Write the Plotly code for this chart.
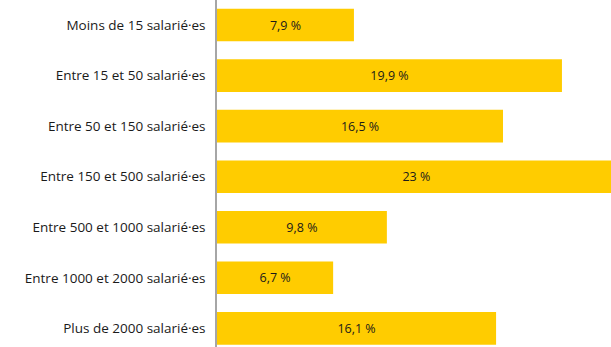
import plotly.graph_objects as go

# Répartition par taille d'entreprise (%)
categories = [
    "Moins de 15 salarié·es",
    "Entre 15 et 50 salarié·es",
    "Entre 50 et 150 salarié·es",
    "Entre 150 et 500 salarié·es",
    "Entre 500 et 1000 salarié·es",
    "Entre 1000 et 2000 salarié·es",
    "Plus de 2000 salarié·es",
]
values = [7.9, 19.9, 16.5, 23, 9.8, 6.7, 16.1]

labels = [f"{v:g}".replace(".", ",") + " %" for v in values]

fig = go.Figure(
    go.Bar(
        x=values,
        y=categories,
        orientation="h",
        width=0.645,
        marker=dict(color="#FFCC00", line=dict(width=0)),
        text=labels,
        textposition="inside",
        insidetextanchor="middle",
        textangle=0,
        textfont=dict(family="Open Sans, sans-serif", size=12.5, color="#1a1a1a"),
        hoverinfo="skip",
    )
)

fig.update_layout(
    width=611,
    height=347,
    margin=dict(l=217, r=0, t=0, b=0),
    paper_bgcolor="white",
    plot_bgcolor="white",
    showlegend=False,
)

fig.update_xaxes(
    range=[0, 22.73],
    showgrid=False,
    zeroline=False,
    showticklabels=False,
    showline=False,
    fixedrange=True,
)

fig.update_yaxes(
    range=[6.369, -0.495],
    showgrid=False,
    zeroline=False,
    showline=True,
    linecolor="#a6a6a6",
    linewidth=1.5,
    ticks="",
    ticklabelstandoff=7,
    tickfont=dict(family="Open Sans, sans-serif", size=13.5, color="#1a1a1a"),
    fixedrange=True,
)

fig.write_html("out.html")
